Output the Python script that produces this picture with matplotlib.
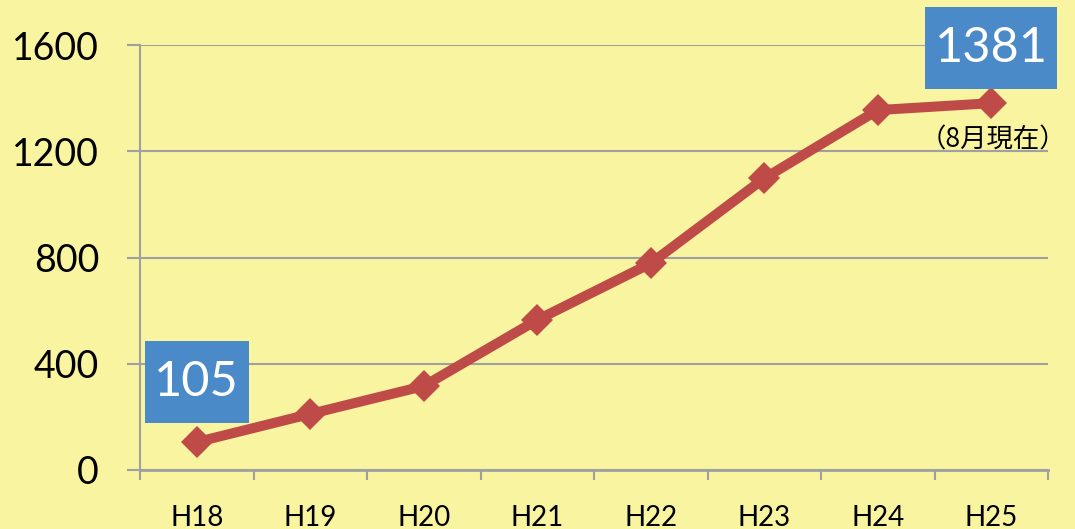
import matplotlib
matplotlib.use("Agg")
import matplotlib.pyplot as plt
from matplotlib.path import Path
import numpy as np

categories = ["H18", "H19", "H20", "H21", "H22", "H23", "H24", "H25"]
values = [105, 211, 316, 565, 778, 1098, 1355, 1381]
yticks = [0, 400, 800, 1200, 1600]
note = "（8月現在）"

BG = "#F9F49F"
RED = "#BE4B48"
BLUE = "#4A8AC8"
GRID = "#A0A0A0"


def padbox(x0, y0, width, height, mutation_size):
    px = 0.2 * mutation_size
    py = 0.385 * mutation_size
    x0, y0 = x0 - px, y0 - py
    x1, y1 = x0 + width + 2 * px, y0 + height + 2 * py
    return Path([(x0, y0), (x1, y0), (x1, y1), (x0, y1), (x0, y0)], closed=True)


fig = plt.figure(figsize=(10.75, 5.29), dpi=100)
fig.patch.set_facecolor(BG)
ax = fig.add_axes([140/1075, (529-470)/529, (1048-140)/1075, (470-45)/529])
ax.set_facecolor(BG)

x = np.arange(len(categories))
ax.plot(x, values, color=RED, lw=7.2, marker="D", ms=16, mew=0, solid_joinstyle="miter", zorder=3)

ax.set_xlim(-0.5, len(categories) - 0.5)
ax.set_ylim(0, 1600)
ax.set_yticks(yticks)
ax.set_yticklabels([str(v) for v in yticks], fontsize=27, family="Lato")
ax.set_xticks(x)
ax.set_xticklabels(categories, fontsize=20, family="Lato")
ax.set_xticks(np.arange(len(categories) + 1) - 0.5, minor=True)

ax.yaxis.grid(True, color=GRID, lw=1.5)
ax.set_axisbelow(True)
for s in ["top", "right"]:
    ax.spines[s].set_visible(False)
ax.spines["left"].set_color(GRID)
ax.spines["left"].set_linewidth(1.5)
ax.spines["bottom"].set_color(GRID)
ax.spines["bottom"].set_linewidth(2)

ax.tick_params(axis="y", direction="out", length=9.5, width=1.5, color=GRID, pad=20)
ax.tick_params(axis="x", which="major", length=0, pad=25)
ax.tick_params(axis="x", which="minor", direction="out", length=7, width=1.5, color=GRID)

box = dict(boxstyle=padbox, fc=BLUE, ec="none")
ax.annotate(str(values[0]), (x[0], values[0]), xytext=(0, 60), textcoords="offset pixels",
            ha="center", va="center", fontsize=35, family="Lato", color="white", bbox=box, zorder=4)
ax.annotate(str(values[-1]), (x[-1], values[-1]), xytext=(0, 55), textcoords="offset pixels",
            ha="center", va="center", fontsize=35, family="Lato", color="white", bbox=box, zorder=4)
ax.annotate(note, (x[-1], values[-1]), xytext=(2, -37), textcoords="offset pixels",
            ha="center", va="center", fontsize=19, family=["Noto Sans CJK JP", "DejaVu Sans"],
            color="black", zorder=4)

fig.savefig("out.png", dpi=100, facecolor=BG)
